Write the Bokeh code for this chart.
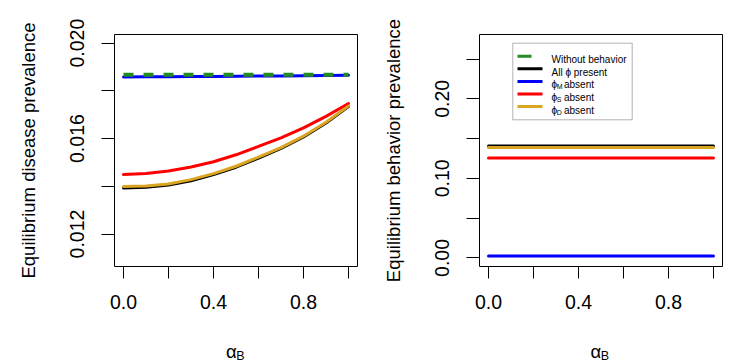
from bokeh.plotting import figure
from bokeh.layouts import row, column
from bokeh.models import Range1d, FixedTicker, Label, BoxAnnotation, NumeralTickFormatter
from bokeh.embed import file_html
from bokeh.resources import INLINE

# ---------------- data ----------------
alpha_B = [0.0, 0.1, 0.2, 0.3, 0.4, 0.5, 0.6, 0.7, 0.8, 0.9, 1.0]

disease_without = [0.01867, 0.01867, 0.01867, 0.01867, 0.01867, 0.01867,
                   0.01867, 0.01867, 0.01867, 0.01867, 0.01867]
disease_all = [0.01393, 0.01396, 0.01405, 0.01423, 0.01449, 0.01480,
               0.01518, 0.01559, 0.01607, 0.01665, 0.01734]
disease_no_M = [0.01858, 0.01859, 0.01859, 0.01860, 0.01860, 0.01861,
                0.01862, 0.01862, 0.01863, 0.01864, 0.01865]
disease_no_S = [0.01449, 0.01454, 0.01464, 0.01481, 0.01503, 0.01532,
                0.01567, 0.01603, 0.01645, 0.01693, 0.01747]
disease_no_D = [0.01399, 0.01401, 0.01410, 0.01428, 0.01453, 0.01484,
                0.01522, 0.01562, 0.01610, 0.01668, 0.01736]

behavior_all = [0.1405] * 11
behavior_no_M = [0.0025] * 11
behavior_no_S = [0.1255] * 11
behavior_no_D = [0.1388] * 11

x_major = [0.0, 0.4, 0.8]
x_minor = [0.2, 0.6, 1.0]
dis_major = [0.012, 0.016, 0.020]
dis_minor = [0.014, 0.018]
beh_major = [0.0, 0.1, 0.2]
beh_minor = [0.05, 0.15, 0.25]

legend_labels = ["Without behavior", "All \u03d5 present", "M", "S", "D"]

# ---------------- styles ----------------
FONT = "Liberation Sans"
GREEN = "#228B22"
BLACK = "#000000"
BLUE = "#0000FF"
RED = "#FF0000"
GOLD = "#DAA520"
TICK_FS = "19.5px"
LAB_FS = "18.5px"


def make_fig(width, left_border, right_border, y0, y1, ymaj, ymin, yfmt, ylabel):
    p = figure(width=width, height=326, output_backend="svg", toolbar_location=None,
               x_range=Range1d(-0.04, 1.04), y_range=Range1d(y0, y1),
               min_border_left=left_border, min_border_right=right_border,
               min_border_top=34, min_border_bottom=60)
    p.background_fill_color = "white"
    p.border_fill_color = "white"
    p.outline_line_color = "black"
    p.outline_line_width = 1
    p.grid.visible = False

    xa = p.xaxis[0]
    xa.ticker = FixedTicker(ticks=x_major, minor_ticks=x_minor)
    xa.formatter = NumeralTickFormatter(format="0.0")
    ya = p.yaxis[0]
    ya.ticker = FixedTicker(ticks=ymaj, minor_ticks=ymin)
    ya.formatter = NumeralTickFormatter(format=yfmt)
    ya.major_label_orientation = "vertical"
    ya.axis_label = ylabel
    ya.axis_label_text_font = FONT
    ya.axis_label_text_font_size = LAB_FS
    ya.axis_label_text_font_style = "normal"
    ya.axis_label_text_color = "black"
    ya.axis_label_standoff = 29
    for ax, out, stand in ((xa, 12, 16), (ya, 13, 17)):
        ax.axis_line_color = None
        ax.major_tick_out = out
        ax.major_tick_in = 0
        ax.minor_tick_out = out
        ax.minor_tick_in = 0
        ax.major_tick_line_color = "black"
        ax.minor_tick_line_color = "black"
        ax.major_label_text_font = FONT
        ax.major_label_text_font_size = TICK_FS
        ax.major_label_text_color = "black"
        ax.major_label_standoff = stand
    return p


p1 = make_fig(368, 114, 11, 0.01064, 0.02036, dis_major, dis_minor, "0.000",
              "Equilibrium disease prevalence")
p1.line(alpha_B, disease_all, line_color=BLACK, line_width=3, line_cap="round")
p1.line(alpha_B, disease_no_M, line_color=BLUE, line_width=3, line_cap="round")
p1.line(alpha_B, disease_no_S, line_color=RED, line_width=3, line_cap="round")
p1.line(alpha_B, disease_no_D, line_color=GOLD, line_width=3, line_cap="round")
p1.line(alpha_B, disease_without, line_color=GREEN, line_width=4, line_dash="10 10")

p2 = make_fig(369, 111, 15, -0.0108, 0.2808, beh_major, beh_minor, "0.00",
              "Equilibrium behavior prevalence")
p2.line(alpha_B, behavior_all, line_color=BLACK, line_width=3, line_cap="round")
p2.line(alpha_B, behavior_no_M, line_color=BLUE, line_width=3, line_cap="round")
p2.line(alpha_B, behavior_no_S, line_color=RED, line_width=3, line_cap="round")
p2.line(alpha_B, behavior_no_D, line_color=GOLD, line_width=3, line_cap="round")

# ---------------- legend (screen units relative to the frame) ----------------
p2.add_layout(BoxAnnotation(left=33.3, right=152.7, bottom=146.7, top=223.3,
                            left_units="screen", right_units="screen",
                            bottom_units="screen", top_units="screen",
                            fill_color="white", fill_alpha=1.0,
                            line_color="black", line_width=1))
entry_y = [210.3, 197.7, 185.1, 172.5, 159.9]
sample_colors = [GREEN, BLACK, BLUE, RED, GOLD]
for i, (yc, col) in enumerate(zip(entry_y, sample_colors)):
    right_end = 52 if i == 0 else 63
    p2.add_layout(BoxAnnotation(left=38, right=right_end, bottom=yc - 1.5, top=yc + 1.5,
                                left_units="screen", right_units="screen",
                                bottom_units="screen", top_units="screen",
                                fill_color=col, fill_alpha=1.0, line_color=None))
    if i < 2:
        p2.add_layout(Label(x=72, y=yc - 3.5, x_units="screen", y_units="screen",
                            text=legend_labels[i], text_font=FONT, text_font_size="10px",
                            text_color="black", text_baseline="alphabetic"))
    else:
        p2.add_layout(Label(x=72, y=yc - 3.5, x_units="screen", y_units="screen",
                            text="\u03d5", text_font=FONT, text_font_size="10px",
                            text_color="black", text_baseline="alphabetic"))
        p2.add_layout(Label(x=77.3, y=yc - 5.5, x_units="screen", y_units="screen",
                            text=legend_labels[i], text_font=FONT, text_font_size="7px",
                            text_color="black", text_baseline="alphabetic"))
        p2.add_layout(Label(x=84.5, y=yc - 3.5, x_units="screen", y_units="screen",
                            text="absent", text_font=FONT, text_font_size="10px",
                            text_color="black", text_baseline="alphabetic"))

# ---------------- x-axis titles (alpha with subscript B) in a text strip ----------------
strip = figure(width=737, height=37, output_backend="svg", toolbar_location=None,
               x_axis_type=None, y_axis_type=None,
               min_border_left=0, min_border_right=0, min_border_top=0, min_border_bottom=0)
strip.outline_line_color = None
strip.grid.visible = False
strip.background_fill_color = "white"
strip.border_fill_color = "white"
for x_alpha in (225.5, 590.0):
    strip.add_layout(Label(x=x_alpha, y=12, x_units="screen", y_units="screen", text="\u03b1",
                           text_font=FONT, text_font_size=LAB_FS, text_color="black",
                           text_align="left", text_baseline="alphabetic"))
    strip.add_layout(Label(x=x_alpha + 10.2, y=8, x_units="screen", y_units="screen", text="B",
                           text_font=FONT, text_font_size="12.5px", text_color="black",
                           text_align="left", text_baseline="alphabetic"))

layout = column(row(p1, p2), strip)
open("out.html", "w").write(file_html(layout, INLINE))
